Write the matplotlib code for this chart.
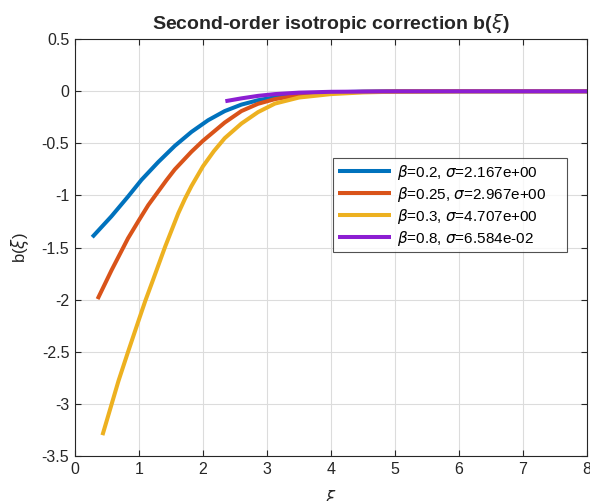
import matplotlib
matplotlib.use('Agg')
import matplotlib.pyplot as plt

plt.rcParams['font.family'] = ['Liberation Sans', 'DejaVu Sans']
plt.rcParams['axes.unicode_minus'] = False
plt.rcParams['mathtext.fontset'] = 'dejavusans'

# values
xi_b02 = [0.27, 0.57, 0.83, 1.04, 1.3, 1.56, 1.82, 2.08, 2.34, 2.6, 2.86, 3.125, 3.5, 4.0, 4.5, 5.0, 6.0, 8.0]
b_b02 = [-1.40, -1.20, -1.01, -0.85, -0.68, -0.524, -0.39, -0.278, -0.19, -0.128, -0.086, -0.057,
         -0.028, -0.010, -0.004, -0.001, 0.0, 0.0]

xi_b025 = [0.354, 0.573, 0.83, 1.0, 1.145, 1.43, 1.56, 1.82, 2.0, 2.34, 2.6, 2.86, 3.125, 3.5, 4.0, 4.5,
           5.0, 6.0, 8.0]
b_b025 = [-1.994, -1.716, -1.41, -1.237, -1.093, -0.853, -0.75, -0.58, -0.475, -0.30, -0.19, -0.12,
          -0.075, -0.038, -0.014, -0.005, -0.002, 0.0, 0.0]

xi_b03 = [0.43, 0.56, 0.68, 0.83, 1.0, 1.1, 1.22, 1.41, 1.615, 1.72, 1.82, 2.0, 2.17, 2.34, 2.6, 2.86,
          3.125, 3.5, 4.0, 4.5, 5.0, 6.0, 8.0]
b_b03 = [-3.30, -3.03, -2.78, -2.50, -2.19, -2.01, -1.81, -1.49, -1.17, -1.03, -0.91, -0.72, -0.575,
         -0.45, -0.31, -0.20, -0.118, -0.06, -0.027, -0.011, -0.004, -0.0005, 0.0]

xi_b08 = [2.35, 2.6, 2.86, 3.125, 3.5, 4.0, 5.0, 6.0, 8.0]
b_b08 = [-0.095, -0.068, -0.044, -0.027, -0.013, -0.005, -0.001, 0.0, 0.0]

labels = [r'$\beta$=0.2, $\sigma$=2.167e+00',
          r'$\beta$=0.25, $\sigma$=2.967e+00',
          r'$\beta$=0.3, $\sigma$=4.707e+00',
          r'$\beta$=0.8, $\sigma$=6.584e-02']
colors = ['#0072BD', '#D95319', '#EDB120', '#8C1ED2']

fig = plt.figure(figsize=(5.9, 5.01), dpi=100)
ax = fig.add_axes([0.127, 0.0898, 0.868, 0.832])

series = [(xi_b02, b_b02), (xi_b025, b_b025), (xi_b03, b_b03), (xi_b08, b_b08)]
for (x, y), lab, c in zip(series, labels, colors):
    ax.plot(x, y, color=c, lw=2.9, label=lab, solid_capstyle='butt', solid_joinstyle='round')

ax.set_xlim(0, 8)
ax.set_ylim(-3.5, 0.5)
ax.set_xticks(range(0, 9))
ax.set_yticks([0.5, 0, -0.5, -1, -1.5, -2, -2.5, -3, -3.5])
ax.set_yticklabels(['0.5', '0', '-0.5', '-1', '-1.5', '-2', '-2.5', '-3', '-3.5'])
ax.grid(True, color='#dcdcdc', lw=0.8)
ax.set_axisbelow(True)
ax.tick_params(direction='in', top=True, right=True, labelsize=11.5, colors='#262626', length=4, pad=4)
for s in ax.spines.values():
    s.set_color('#262626')
    s.set_linewidth(0.8)

ax.set_title(r'Second-order isotropic correction b($\xi$)', fontsize=14, fontweight='bold',
             color='#262626', pad=7)
ax.set_xlabel(r'$\xi$', fontsize=12, color='#262626', labelpad=8)
ax.set_ylabel(r'b($\xi$)', fontsize=12, color='#262626', labelpad=8)

# legend box as wide as MATLAB draws it
leg = ax.legend(loc='upper left', bbox_to_anchor=(0.504, 0.0, 0.457, 0.715), mode='expand',
                borderaxespad=0, fontsize=11, frameon=True, fancybox=False, edgecolor='#262626',
                handlelength=3.5, borderpad=0.3, labelspacing=0.2, handletextpad=0.4)
leg.get_frame().set_linewidth(0.8)

fig.savefig('out.png', dpi=100)
